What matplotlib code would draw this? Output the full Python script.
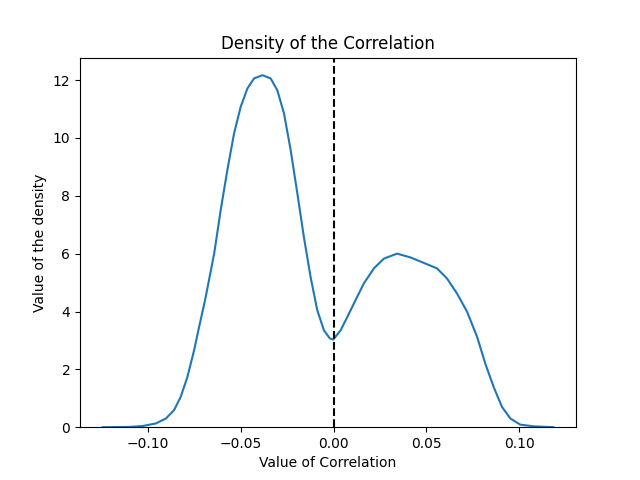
import matplotlib
matplotlib.use("Agg")
import matplotlib.pyplot as plt

# values
corr = [-0.1244, -0.1100, -0.1029, -0.0957, -0.0903, -0.0859, -0.0823, -0.0787,
        -0.0751, -0.0724, -0.0692, -0.0643, -0.0608, -0.0572, -0.0536, -0.0500,
        -0.0464, -0.0428, -0.0383, -0.0339, -0.0303, -0.0267, -0.0231, -0.0195,
        -0.0160, -0.0124, -0.0088, -0.0052, -0.0020, -0.0002, 0.0038, 0.0074,
        0.0118, 0.0163, 0.0217, 0.0271, 0.0342, 0.0414, 0.0486, 0.0557,
        0.0611, 0.0665, 0.0719, 0.0773, 0.0817, 0.0862, 0.0907, 0.0952,
        0.1005, 0.1077, 0.1184]
density = [0.0, 0.01, 0.04, 0.13, 0.30, 0.59, 1.05, 1.74,
           2.66, 3.47, 4.39, 6.0, 7.50, 8.89, 10.15, 11.08,
           11.71, 12.06, 12.17, 12.06, 11.65, 10.85, 9.58, 8.08,
           6.58, 5.20, 4.05, 3.35, 3.07, 3.03, 3.35, 3.81,
           4.39, 4.97, 5.49, 5.83, 6.0, 5.87, 5.68, 5.49,
           5.14, 4.62, 3.99, 3.12, 2.20, 1.39, 0.70, 0.30,
           0.09, 0.03, 0.0]

fig, ax = plt.subplots(figsize=(6.4, 4.8), dpi=100)
ax.plot(corr, density, color="tab:blue", linewidth=1.5)
ax.axvline(0, color="black", linestyle="--")
ax.set_ylim(bottom=0)
ax.set_title("Density of the Correlation")
ax.set_xlabel("Value of Correlation")
ax.set_ylabel("Value of the density")
fig.savefig("out.png")
